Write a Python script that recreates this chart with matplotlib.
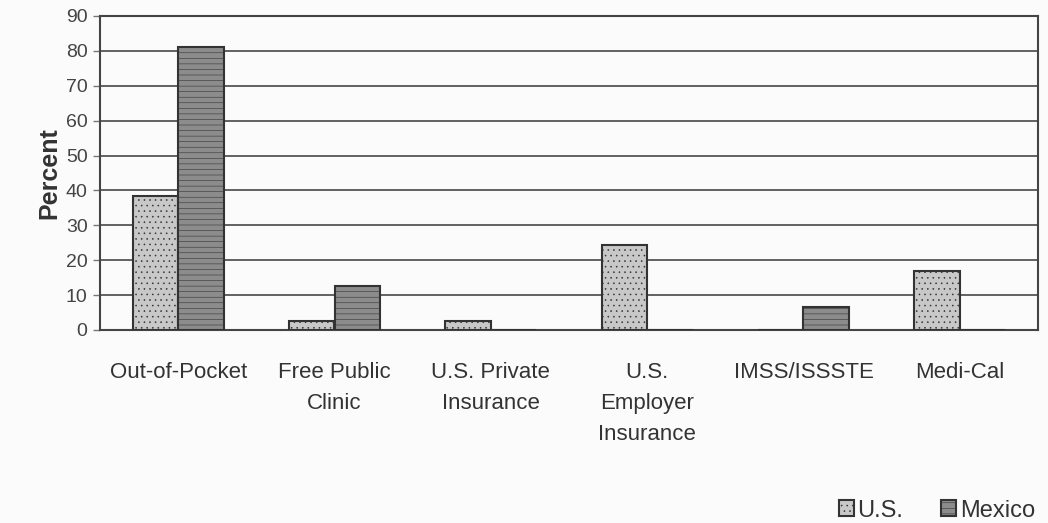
import matplotlib
matplotlib.use("Agg")
import matplotlib.pyplot as plt
import numpy as np

categories = ["Out-of-Pocket", "Free Public\nClinic", "U.S. Private\nInsurance",
              "U.S.\nEmployer\nInsurance", "IMSS/ISSSTE", "Medi-Cal"]
us_values = [38.5, 2.7, 2.5, 24.5, 0, 17]
mexico_values = [81, 12.5, 0, 0, 6.5, 0]
yticks = list(range(0, 91, 10))

plt.rcParams['font.family'] = ['Liberation Sans', 'DejaVu Sans']
plt.rcParams['hatch.color'] = '#9a9a9a'
plt.rcParams['hatch.linewidth'] = 0.4

fig = plt.figure(figsize=(10.48, 5.23), dpi=100)
fig.patch.set_facecolor('#fbfbfb')
ax = fig.add_axes([100/1048, 1-330/523, 938/1048, 314/523])
ax.set_facecolor('#fbfbfb')

x = np.arange(len(categories))
w = 0.29
ax.bar(x - w/2, us_values, w, color='#c8c8c8', edgecolor='#333333', linewidth=1.5,
       label='U.S.', zorder=3, hatch='...')
ax.bar(x + w/2, mexico_values, w, color='#8c8c8c', edgecolor='#333333', linewidth=1.5,
       label='Mexico', zorder=3, hatch='---')

ax.set_xlim(-0.5, len(categories) - 0.5)
ax.set_ylim(0, 90)
ax.set_yticks(yticks)
ax.yaxis.grid(True, color='#555555', linewidth=1.3, zorder=0)
ax.set_axisbelow(True)
ax.set_xticks(x)
ax.set_xticklabels(categories, fontsize=16, color='#333333', linespacing=1.62, va='top')
ax.tick_params(axis='x', length=0, pad=23)
ax.tick_params(axis='y', length=5, width=1, color='#777777', labelsize=14,
               labelcolor='#444444', pad=4)
for s in ax.spines.values():
    s.set_color('#444444')
    s.set_linewidth(1.5)

ax.set_ylabel('Percent', fontsize=18, fontweight='bold', color='#333333', labelpad=3)

leg = fig.legend(loc='lower right', bbox_to_anchor=(1.008, -0.038), ncol=2, frameon=False,
                 fontsize=17, handlelength=0.65, handleheight=0.65, handletextpad=0.15,
                 columnspacing=1.6, labelcolor='#333333')

fig.savefig('out.png', dpi=100, facecolor=fig.get_facecolor())
